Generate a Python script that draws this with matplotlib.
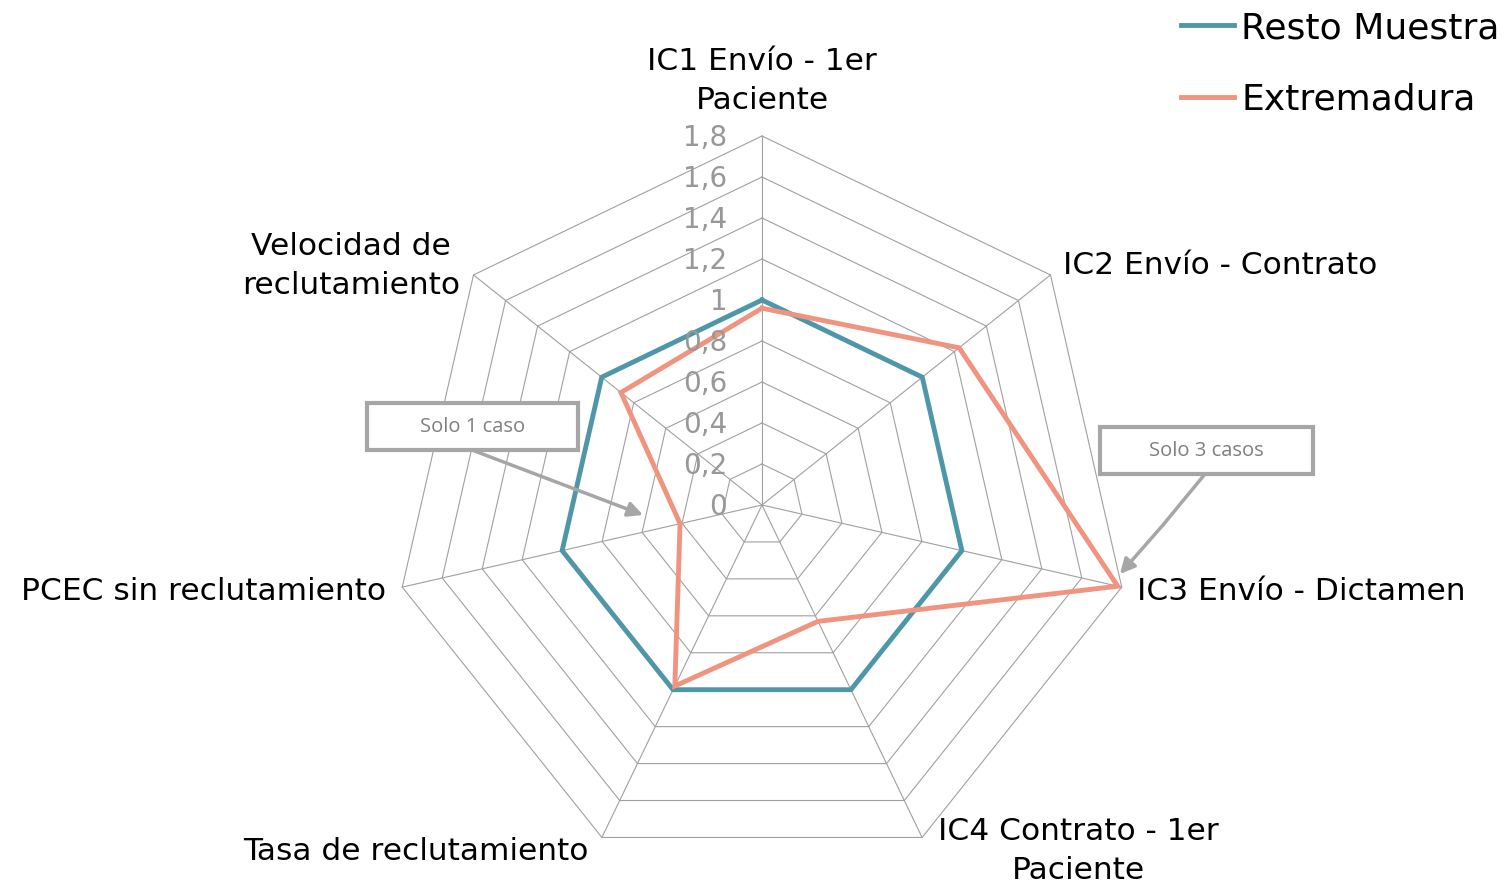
import numpy as np
import matplotlib
matplotlib.use("Agg")
import matplotlib.pyplot as plt
from matplotlib.patches import Rectangle

# datos del gráfico
categorias = ["IC1 Envío - 1er\nPaciente", "IC2 Envío - Contrato", "IC3 Envío - Dictamen",
              "IC4 Contrato - 1er\nPaciente", "Tasa de reclutamiento",
              "PCEC sin reclutamiento", "Velocidad de\nreclutamiento"]
resto_muestra = [1.0, 1.0, 1.0, 1.0, 1.0, 1.0, 1.0]
extremadura = [0.96, 1.23, 1.78, 0.63, 0.98, 0.41, 0.88]
ticks = [0, 0.2, 0.4, 0.6, 0.8, 1.0, 1.2, 1.4, 1.6, 1.8]
tick_labels = ["0", "0,2", "0,4", "0,6", "0,8", "1", "1,2", "1,4", "1,6", "1,8"]

W, H = 1509, 883
CX, CY, ESC = 762, 505, 205.0  # centro en pixeles y pixeles por unidad


def px(x, y):
    # pixel de la imagen -> coordenadas de datos
    return (x - CX) / ESC, (CY - y) / ESC


n = len(categorias)
ang = np.pi / 2 - np.arange(n) * 2 * np.pi / n


def xy(valores):
    v = np.array(list(valores) + [valores[0]])
    a = np.append(ang, ang[0])
    return v * np.cos(a), v * np.sin(a)


fig = plt.figure(figsize=(W / 100, H / 100), dpi=100)
ax = fig.add_axes([0, 0, 1, 1])
ax.set_xlim(-CX / ESC, (W - CX) / ESC)
ax.set_ylim(-(H - CY) / ESC, CY / ESC)
ax.axis("off")

gris = "#A0A0A0"
# rejilla poligonal
for t in ticks[1:]:
    gx, gy = xy([t] * n)
    ax.plot(gx, gy, color=gris, lw=0.8, zorder=1)
for a in ang:
    ax.plot([0, ticks[-1] * np.cos(a)], [0, ticks[-1] * np.sin(a)], color=gris, lw=0.8, zorder=1)

# series
rx, ry = xy(resto_muestra)
ax.plot(rx, ry, color="#4E97A9", lw=3.5, zorder=3, label="Resto Muestra", solid_joinstyle="miter")
ex, ey = xy(extremadura)
ax.plot(ex, ey, color="#F0937F", lw=3.5, zorder=4, label="Extremadura", solid_joinstyle="miter")

# etiquetas de escala
for t, lab in zip(ticks, tick_labels):
    ax.text(-0.17, t - 0.012, lab, ha="right", va="center", fontsize=20, color="#989898", zorder=5)

# etiquetas de ejes
fs = 22.5
ls = 1.4
ax.text(*px(762, 81), categorias[0], ha="center", va="center", fontsize=fs, linespacing=ls)
ax.text(*px(1063, 266), categorias[1], ha="left", va="center", fontsize=fs)
ax.text(*px(1137, 591), categorias[2], ha="left", va="center", fontsize=fs)
ax.text(*px(1078, 851), categorias[3], ha="center", va="center", fontsize=fs, linespacing=ls)
ax.text(*px(416, 852), categorias[4], ha="center", va="center", fontsize=fs)
ax.text(*px(386, 591), categorias[5], ha="right", va="center", fontsize=fs)
ax.text(*px(351, 266), categorias[6], ha="center", va="center", fontsize=fs, linespacing=ls)

# notas
gnota = "#A6A6A6"
for (x0, y0, x1, y1, txt) in [(367, 403, 578, 450, "Solo 1 caso"), (1100, 427, 1313, 474, "Solo 3 casos")]:
    bx0, by0 = px(x0, y1)
    bx1, by1 = px(x1, y0)
    ax.add_patch(Rectangle((bx0, by0), bx1 - bx0, by1 - by0, facecolor="white",
                           edgecolor=gnota, lw=3, zorder=6))
    ax.text((bx0 + bx1) / 2, (by0 + by1) / 2, txt, ha="center", va="center",
            fontsize=14.5, color="#7F7F7F", family="Open Sans", zorder=7)

flecha = dict(arrowstyle="-|>", color=gnota, lw=2.5, mutation_scale=22, shrinkA=0, shrinkB=0)
ax.annotate("", xy=px(643, 515), xytext=px(472, 450), arrowprops=flecha, zorder=6)
ax.plot(*zip(px(1205, 474), px(1163, 525)), color=gnota, lw=2.5, zorder=6, solid_capstyle="butt")
ax.annotate("", xy=px(1120, 574), xytext=px(1163, 525), arrowprops=flecha, zorder=6)

# leyenda
leg = ax.legend(loc="upper right", bbox_to_anchor=(1.008, 1.012), frameon=False, fontsize=26,
                handlelength=1.45, handletextpad=0.2, labelspacing=1.04, borderaxespad=0.2)

fig.savefig("out.png", dpi=100)
